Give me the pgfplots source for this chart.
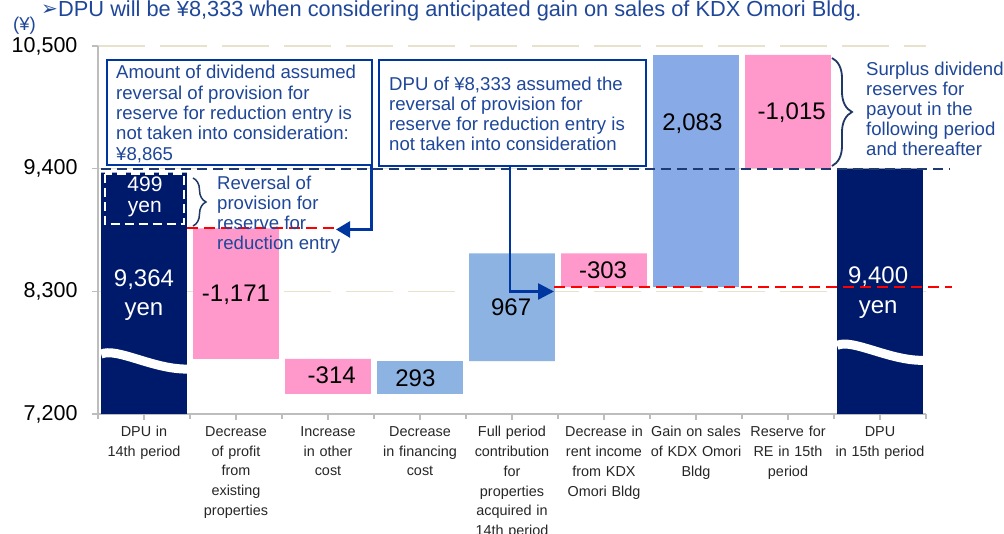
\documentclass[border=0pt]{standalone}
\usepackage{fontspec}
\setmainfont{Liberation Sans}
\newfontfamily\symfont{DejaVu Sans}
\usepackage{pgfplots}
\pgfplotsset{compat=1.18}
\usetikzlibrary{decorations.pathreplacing,arrows.meta}
\definecolor{navybar}{HTML}{001A6B}
\definecolor{pinkbar}{HTML}{FF99CC}
\definecolor{bluebar}{HTML}{8DB3E2}
\definecolor{bluebarB}{HTML}{88AAE6}
\definecolor{txtblue}{HTML}{1F4799}
\definecolor{boxblue}{HTML}{0036A0}
\definecolor{bracecol}{HTML}{1F3864}
\definecolor{gridbeige}{HTML}{E8E1CC}
\definecolor{axisgrey}{HTML}{BDBDBD}
\definecolor{dashnavy}{HTML}{1F3A70}

\newcommand{\ann}{\fontsize{18.6}{20.3}\selectfont\color{txtblue}}
\begin{document}
\begin{tikzpicture}[x=1pt,y=1pt]
\useasboundingbox (0,0) rectangle (1004,534);
\begin{axis}[
  at={(98pt,120pt)}, anchor=south west,
  scale only axis, width=828pt, height=368pt,
  xmin=-0.5, xmax=8.5, ymin=7200, ymax=10500,
  ybar stacked, bar width=0.932,
  axis x line*=bottom, axis y line*=left,
  axis line style={axisgrey, line width=1.5pt},
  ytick={7200,8300,9400,10500},
  scaled y ticks=false,
  /pgf/number format/assume math mode=true,
  yticklabel style={font=\fontsize{21.5}{24}\selectfont, /pgf/number format/1000 sep={,}, xshift=-11pt},
  ymajorgrids,
  grid style={gridbeige, line width=1.5pt, dash pattern=on 47pt off 15pt},
  tick align=outside,
  major tick length=6pt,
  minor tick length=5pt,
  tick style={axisgrey, line width=1.5pt},
  xtick={0,...,8},
  minor xtick={-0.5,0.5,...,8.5},
  xticklabels={{DPU in\\14th period},{Decrease\\of profit\\from\\existing\\properties},{Increase\\in other\\cost},{Decrease\\in financing\\cost},{Full period\\contribution\\for\\properties\\acquired in\\14th period},{Decrease in\\rent income\\from KDX\\Omori Bldg},{Gain on sales\\of KDX Omori\\Bldg},{Reserve for\\RE in 15th\\period},{DPU\\in 15th period}},
  xticklabel style={font=\fontsize{14.4}{19.7}\selectfont, align=center, text width=96pt, text=black!85, yshift=-3pt},
  clip=true,
]
\addplot[draw=none, fill=none] coordinates {(0,0) (1,7694) (2,7380) (3,7380) (4,7673) (5,8337) (6,8337) (7,9405) (8,0)};
\addplot[draw=none, fill=navybar] coordinates {(0,9364) (1,0) (2,0) (3,0) (4,0) (5,0) (6,0) (7,0) (8,9400)};
\addplot[draw=none, fill=pinkbar] coordinates {(0,0) (1,1171) (2,314) (3,0) (4,0) (5,303) (6,0) (7,1015) (8,0)};
\addplot[draw=none, fill=bluebar] coordinates {(0,0) (1,0) (2,0) (3,293) (4,967) (5,0) (6,0) (7,0) (8,0)};
\addplot[draw=none, fill=bluebarB] coordinates {(0,0) (1,0) (2,0) (3,0) (4,0) (5,0) (6,2083) (7,0) (8,0)};

% wave breaks
\coordinate (wa1) at (axis cs:-0.466,7737);
\coordinate (wa2) at (axis cs:-0.3,7800);
\coordinate (wa3) at (axis cs:0.1,7600);
\coordinate (wa4) at (axis cs:0.466,7603);
\coordinate (wb1) at (axis cs:7.534,7815);
\coordinate (wb2) at (axis cs:7.7,7878);
\coordinate (wb3) at (axis cs:8.1,7678);
\coordinate (wb4) at (axis cs:8.466,7681);
% dashed box
\coordinate (dbA) at (axis cs:-0.425,9355);
\coordinate (dbB) at (axis cs:0.435,8905);
% reference lines
\coordinate (nA) at (axis cs:-0.467,9400);
\coordinate (nB) at (axis cs:8.76,9400);
\coordinate (rA) at (axis cs:0.467,8868);
\coordinate (rB) at (axis cs:2.09,8868);
\coordinate (sA) at (axis cs:4.457,8337);
\coordinate (sB) at (axis cs:8.78,8337);
% value label anchors
\coordinate (L0a) at (axis cs:0,8347);
\coordinate (L0b) at (axis cs:0,8087);
\coordinate (L0c) at (axis cs:0.01,9191);
\coordinate (L0d) at (axis cs:0.01,9003);
\coordinate (L1) at (axis cs:1.0,8212);
\coordinate (L2) at (axis cs:2.04,7469);
\coordinate (L3) at (axis cs:2.95,7451);
\coordinate (L4) at (axis cs:3.99,8087);
\coordinate (L5) at (axis cs:4.99,8418);
\coordinate (L6) at (axis cs:5.96,9744);
\coordinate (L7) at (axis cs:7.04,9840);
\coordinate (L8a) at (axis cs:7.98,8371);
\coordinate (L8b) at (axis cs:7.98,8105);
\end{axis}

\draw[white, line width=9pt] (wa1) .. controls (wa2) and (wa3) .. (wa4);
\draw[white, line width=9pt] (wb1) .. controls (wb2) and (wb3) .. (wb4);
\draw[white, line width=2.5pt, dash pattern=on 9pt off 5pt] (dbA) rectangle (dbB);

\draw[dashnavy, line width=2pt, dash pattern=on 10pt off 6pt] (nA) -- (nB);
\draw[red, line width=2pt, dash pattern=on 11pt off 6pt] (rA) -- (rB);
\draw[red, line width=2pt, dash pattern=on 11pt off 6pt] (sA) -- (sB);

\begin{scope}[every node/.style={inner sep=0pt, anchor=base, font=\fontsize{24}{29}\selectfont}]
\node[text=white] at (L0a) {9,364};
\node[text=white] at (L0b) {yen};
\node[text=white, font=\fontsize{21}{23}\selectfont] at (L0c) {499};
\node[text=white, font=\fontsize{21}{23}\selectfont] at (L0d) {yen};
\node at (L1) {-1,171};
\node at (L2) {-314};
\node at (L3) {293};
\node at (L4) {967};
\node at (L5) {-303};
\node at (L6) {2,083};
\node at (L7) {-1,015};
\node[text=white] at (L8a) {9,400};
\node[text=white] at (L8b) {yen};
\end{scope}

\node[anchor=base west, inner sep=0pt, text=txtblue, font=\symfont\fontsize{20}{22}\selectfont] at (41,518) {➢};
\node[anchor=base west, inner sep=0pt, text=txtblue, font=\fontsize{21.8}{24}\selectfont] at (58,517.3) {DPU will be ¥8,333 when considering anticipated gain on sales of KDX Omori Bldg.};
\node[anchor=base west, inner sep=0pt, text=txtblue, font=\fontsize{18.6}{22}\selectfont] at (13,503) {(¥)};

\draw[boxblue, line width=2pt, fill=white] (107,474) rectangle (372,369);
\node[anchor=base west, inner sep=0pt, font=\ann] at (116,455) {Amount of dividend assumed};
\node[anchor=base west, inner sep=0pt, font=\ann] at (116,434.7) {reversal of provision for};
\node[anchor=base west, inner sep=0pt, font=\ann] at (116,414.4) {reserve for reduction entry is};
\node[anchor=base west, inner sep=0pt, font=\ann] at (116,394.1) {not taken into consideration:};
\node[anchor=base west, inner sep=0pt, font=\ann] at (116,373.8) {¥8,865};
\draw[boxblue, line width=2.5pt, -{Triangle[length=14pt,width=16pt]}] (371.5,369) |- (336,304.5);

\draw[boxblue, line width=2pt, fill=white] (379,474) rectangle (646,368);
\node[anchor=base west, inner sep=0pt, font=\ann] at (389,443.5) {DPU of ¥8,333 assumed the};
\node[anchor=base west, inner sep=0pt, font=\ann] at (389,423.5) {reversal of provision for};
\node[anchor=base west, inner sep=0pt, font=\ann] at (389,403.5) {reserve for reduction entry is};
\node[anchor=base west, inner sep=0pt, font=\ann] at (389,383.5) {not taken into consideration};
\draw[boxblue, line width=2.5pt, -{Triangle[length=16pt,width=16pt]}] (510,368) |- (554,242.5);

\draw[bracecol, line width=1.5pt, decorate, decoration={brace, amplitude=13pt}] (193,356) -- (193,308);
\node[anchor=base west, inner sep=0pt, font=\ann] at (217,344) {Reversal of};
\node[anchor=base west, inner sep=0pt, font=\ann] at (217,324) {provision for};
\node[anchor=base west, inner sep=0pt, font=\ann] at (217,304) {reserve for};
\node[anchor=base west, inner sep=0pt, font=\ann] at (217,284) {reduction entry};

\draw[bracecol, line width=1.8pt, decorate, decoration={brace, amplitude=20pt}] (832,476) -- (832,368);
\node[anchor=base west, inner sep=0pt, font=\ann] at (866,458) {Surplus dividend};
\node[anchor=base west, inner sep=0pt, font=\ann] at (866,438) {reserves for};
\node[anchor=base west, inner sep=0pt, font=\ann] at (866,418) {payout in the};
\node[anchor=base west, inner sep=0pt, font=\ann] at (866,398) {following period};
\node[anchor=base west, inner sep=0pt, font=\ann] at (866,378) {and thereafter};
\end{tikzpicture}
\end{document}
